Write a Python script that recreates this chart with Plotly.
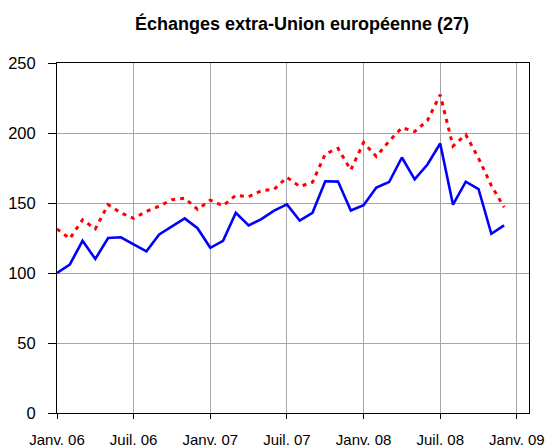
import plotly.graph_objects as go

# Monthly index, Janv. 06 .. Déc. 08
month_idx = list(range(36))
tick_vals = [0, 6, 12, 18, 24, 30, 36]
tick_labels = ["Janv. 06", "Juil. 06", "Janv. 07", "Juil. 07", "Janv. 08", "Juil. 08", "Janv. 09"]

blue_values = [100, 106, 123, 110, 125, 125.5, 120.5, 115.5, 127.5, 133, 139, 132,
               118, 123, 143, 134, 138.5, 144.5, 149, 137.5, 143, 165.5, 165.3, 144.6,
               148.4, 161, 165, 182.5, 166.9, 177.5, 192.5, 148.8, 165.2, 160, 128, 134]

red_values = [131.5, 124.5, 138, 131.5, 148.8, 143, 139, 144, 147.8, 152.4, 153.5, 145.4,
              152, 148, 155.5, 154.5, 158.8, 159.8, 168.3, 161.8, 164.8, 185, 189, 173.6,
              193.2, 183.2, 194.2, 203.8, 201, 209, 227.3, 190.6, 198.8, 182, 162.5, 147]

fig = go.Figure()
fig.add_trace(go.Scatter(x=month_idx, y=red_values, mode="lines", name="Série 2",
                         line=dict(color="#FF0000", width=3, dash="4px,5px")))
fig.add_trace(go.Scatter(x=month_idx, y=blue_values, mode="lines", name="Série 1",
                         line=dict(color="#0000FF", width=2.6)))

# The page body adds an 8px offset, so the figure is sized/placed to compensate.
W, H = 546, 440
font_family = "Liberation Sans, Arial, sans-serif"
fig.update_layout(
    width=W, height=H,
    margin=dict(l=49, r=25, t=55, b=35, autoexpand=False),
    paper_bgcolor="white", plot_bgcolor="white",
    showlegend=False,
    font=dict(family=font_family, color="black"),
    title=dict(text="<b>Échanges extra-Union européenne (27)</b>",
               font=dict(family=font_family, size=18, color="black"),
               x=294/W, xref="container", xanchor="center",
               y=1-16/H, yref="container", yanchor="middle", automargin=False),
    xaxis=dict(range=[0, 36.95], tickvals=tick_vals, ticktext=tick_labels,
               showgrid=True, gridcolor="#a6a6a6", gridwidth=1,
               showline=True, linecolor="black", linewidth=1, mirror=True,
               ticks="outside", ticklen=5, tickcolor="black", automargin=False,
               tickfont=dict(size=15, family=font_family), ticklabelstandoff=8,
               zeroline=False),
    yaxis=dict(range=[0, 250], tickvals=[0, 50, 100, 150, 200, 250],
               showgrid=True, gridcolor="#a6a6a6", gridwidth=1,
               showline=True, linecolor="black", linewidth=1, mirror=True,
               ticks="outside", ticklen=8, tickcolor="black", automargin=False,
               tickfont=dict(size=16.5, family=font_family), ticklabelstandoff=9,
               zeroline=False),
)

fig.write_html("out.html")
